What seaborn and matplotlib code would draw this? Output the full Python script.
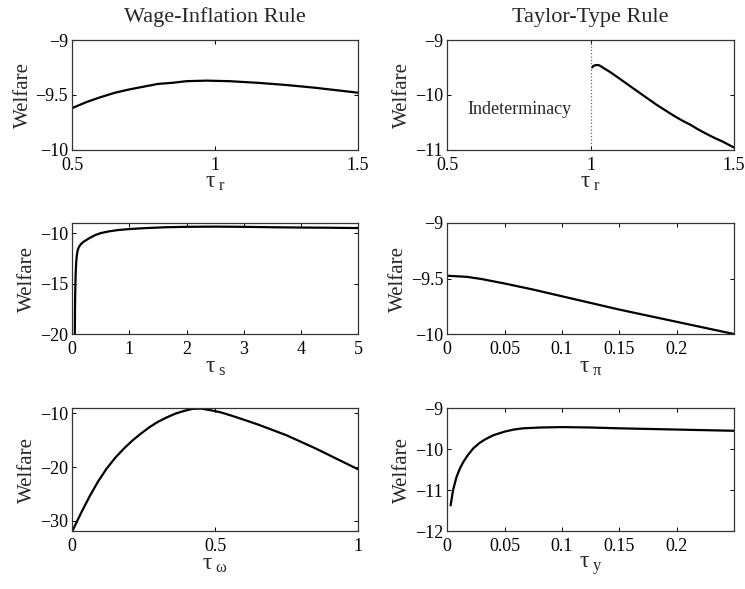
import numpy as np
import pandas as pd
import matplotlib
matplotlib.use("Agg")
import matplotlib.pyplot as plt
import seaborn as sns

# --- data ---
# Wage-inflation rule
tau_r_wage = [0.5, 0.55, 0.6, 0.65, 0.7, 0.75, 0.8, 0.85, 0.9, 0.97, 1.05, 1.15, 1.25, 1.35, 1.45, 1.5]
welfare_r_wage = [-9.62, -9.565, -9.52, -9.48, -9.45, -9.425, -9.40, -9.39, -9.375, -9.37, -9.375,
                  -9.39, -9.41, -9.435, -9.465, -9.48]

tau_s = [0.045, 0.047, 0.05, 0.055, 0.06, 0.065, 0.07, 0.08, 0.09, 0.1, 0.12, 0.15, 0.2, 0.3,
         0.4, 0.5, 0.64, 0.8, 1.0, 1.3, 1.64, 2.0, 2.5, 3.0, 3.5, 4.0, 4.5, 5.0]
welfare_s = [-20.0, -18.0, -16.5, -15.0, -14.0, -13.3, -12.8, -12.2, -11.85, -11.6, -11.35, -11.1,
             -10.85, -10.5, -10.2, -10.0, -9.83, -9.7, -9.6, -9.5, -9.42, -9.38, -9.36, -9.38,
             -9.42, -9.45, -9.47, -9.5]

tau_w = [0.0, 0.03, 0.06, 0.09, 0.12, 0.15, 0.18, 0.21, 0.24, 0.27, 0.30, 0.33, 0.36, 0.39,
         0.42, 0.45, 0.48, 0.52, 0.56, 0.6, 0.65, 0.7, 0.75, 0.8, 0.85, 0.9, 0.95, 1.0]
welfare_w = [-31.9, -28.6, -25.5, -22.7, -20.3, -18.3, -16.6, -15.1, -13.8, -12.6, -11.6, -10.8,
             -10.1, -9.6, -9.2, -9.15, -9.4, -9.85, -10.5, -11.2, -12.1, -13.1, -14.1, -15.3,
             -16.5, -17.8, -19.1, -20.4]

# Taylor-type rule
tau_r_taylor = [1.005, 1.01, 1.02, 1.03, 1.045, 1.07, 1.1, 1.135, 1.17, 1.2, 1.23, 1.26, 1.29,
                1.32, 1.35, 1.375, 1.40, 1.43, 1.46, 1.5]
welfare_r_taylor = [-9.50, -9.47, -9.455, -9.46, -9.51, -9.59, -9.70, -9.83, -9.96, -10.07,
                    -10.18, -10.28, -10.38, -10.47, -10.55, -10.63, -10.70, -10.78, -10.85, -10.96]

tau_pi = [0.0, 0.017, 0.03, 0.05, 0.075, 0.1, 0.125, 0.15, 0.175, 0.2, 0.225, 0.25]
welfare_pi = [-9.475, -9.485, -9.505, -9.545, -9.60, -9.66, -9.72, -9.78, -9.835, -9.89, -9.945, -10.0]

tau_y = [0.0029, 0.005, 0.008, 0.011, 0.014, 0.018, 0.0226, 0.028, 0.033, 0.04, 0.05, 0.058,
         0.066, 0.081, 0.1, 0.125, 0.15, 0.2, 0.25]
welfare_y = [-11.37, -11.0, -10.68, -10.47, -10.31, -10.14, -9.98, -9.85, -9.76, -9.66, -9.57,
             -9.52, -9.49, -9.47, -9.46, -9.47, -9.49, -9.52, -9.55]

col_titles = ["Wage-Inflation Rule", "Taylor-Type Rule"]

sns.set_theme(style="ticks")
plt.rcParams["font.family"] = ["Liberation Serif", "DejaVu Serif"]
plt.rcParams["mathtext.fontset"] = "custom"
plt.rcParams["mathtext.rm"] = "Liberation Serif"
plt.rcParams["mathtext.it"] = "Liberation Serif"

fig = plt.figure(figsize=(7.45, 5.89), dpi=100)

boxes = {
    (0, 0): [0.0970, 0.7458, 0.3835, 0.1862],
    (0, 1): [0.6004, 0.7458, 0.3848, 0.1862],
    (1, 0): [0.0970, 0.4329, 0.3835, 0.1885],
    (1, 1): [0.6004, 0.4329, 0.3848, 0.1885],
    (2, 0): [0.0970, 0.0981, 0.3835, 0.2088],
    (2, 1): [0.6004, 0.0981, 0.3848, 0.2088],
}

M = "\u2212"
panels = [
    ((0, 0), tau_r_wage, welfare_r_wage, r"$\tau_{\;\mathrm{r}}$", (0.5, 1.5), [0.5, 1, 1.5],
     ["0.5", "1", "1.5"], (-10, -9), [-10, -9.5, -9], [M + "10", M + "9.5", M + "9"]),
    ((0, 1), tau_r_taylor, welfare_r_taylor, r"$\tau_{\;\mathrm{r}}$", (0.5, 1.5), [0.5, 1, 1.5],
     ["0.5", "1", "1.5"], (-11, -9), [-11, -10, -9], [M + "11", M + "10", M + "9"]),
    ((1, 0), tau_s, welfare_s, r"$\tau_{\;\mathrm{s}}$", (0, 5), [0, 1, 2, 3, 4, 5],
     ["0", "1", "2", "3", "4", "5"], (-20, -9), [-20, -15, -10], [M + "20", M + "15", M + "10"]),
    ((1, 1), tau_pi, welfare_pi, r"$\tau_{\;\pi}$", (0, 0.25), [0, 0.05, 0.1, 0.15, 0.2],
     ["0", "0.05", "0.1", "0.15", "0.2"], (-10, -9), [-10, -9.5, -9], [M + "10", M + "9.5", M + "9"]),
    ((2, 0), tau_w, welfare_w, r"$\tau_{\;\omega}$", (0, 1), [0, 0.5, 1], ["0", "0.5", "1"],
     (-31.9, -9.08), [-30, -20, -10], [M + "30", M + "20", M + "10"]),
    ((2, 1), tau_y, welfare_y, r"$\tau_{\;\mathrm{y}}$", (0, 0.25), [0, 0.05, 0.1, 0.15, 0.2],
     ["0", "0.05", "0.1", "0.15", "0.2"], (-12, -9), [-12, -11, -10, -9],
     [M + "12", M + "11", M + "10", M + "9"]),
]

for key, xs, ys, xlab, xlim, xt, xtl, ylim, yt, ytl in panels:
    ax = fig.add_axes(boxes[key])
    df = pd.DataFrame({"x": xs, "y": ys})
    sns.lineplot(data=df, x="x", y="y", ax=ax, color="black", linewidth=1.6)
    ax.set_xlim(*xlim)
    ax.set_ylim(*ylim)
    ax.set_xticks(xt)
    ax.set_xticklabels(xtl)
    ax.set_yticks(yt)
    ax.set_yticklabels(ytl)
    ax.tick_params(direction="in", top=True, right=True, length=3, width=0.7,
                   labelsize=13, pad=3, colors="black")
    ax.tick_params(axis="x", pad=5)
    for sp in ax.spines.values():
        sp.set_color("#333333")
        sp.set_linewidth(0.9)
    ax.set_xlabel(xlab, fontsize=17, labelpad=-1)
    ax.set_ylabel("Welfare", fontsize=15, labelpad=2)
    if key[0] == 0:
        ax.set_title(col_titles[key[1]], fontsize=16, pad=13)
    if key == (0, 1):
        ax.axvline(1.0, color="#666666", linestyle=":", linewidth=0.9)
        ax.text(0.75, -10.26, "Indeterminacy", fontsize=13, ha="center", va="center")

fig.savefig("out.png", dpi=100)
